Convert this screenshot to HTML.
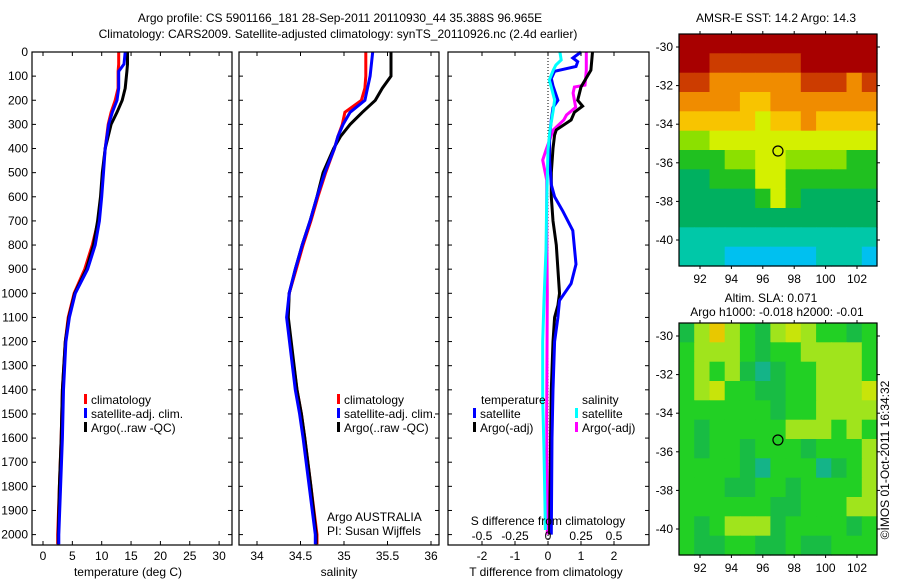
<!DOCTYPE html>
<html><head><meta charset="utf-8"><style>
html,body{margin:0;padding:0;background:#fff;}
svg{display:block;font-family:"Liberation Sans",Arial,sans-serif;}
text{font-size:12px;fill:#000;}
</style></head><body>
<svg id="chart" width="900" height="580" viewBox="0 0 900 580" xmlns="http://www.w3.org/2000/svg">
<text x="340" y="22" text-anchor="middle">Argo profile: CS 5901166_181 28-Sep-2011 20110930_44 35.388S 96.965E</text>
<text x="338" y="38" text-anchor="middle">Climatology: CARS2009. Satellite-adjusted climatology: synTS_20110926.nc (2.4d earlier)</text>
<g id="g1"></g>
<g id="g2"></g>
<g id="g3"></g>
<g id="g4"></g>
<g id="g5"></g>
<text x="0" y="0" transform="translate(889,460) rotate(-90)" text-anchor="middle">©IMOS 01-Oct-2011 16:34:32</text>
</svg>
<script>
// ---- data ----
const tDepth = [0,50,80,150,200,250,300,400,500,600,700,800,900,1000,1100,1200,1400,1600,1800,2000,2040];
const tClim  = [12.9,12.9,12.8,12.8,12.3,11.6,11.1,10.6,10.2,9.9,9.4,8.4,7.1,5.3,4.3,3.8,3.3,3.1,2.8,2.5,2.5];
const tSat   = [14.0,13.8,12.9,12.9,12.6,11.8,11.2,10.6,10.3,10.0,9.6,8.9,7.6,5.5,4.5,3.9,3.5,3.3,3.0,2.7,2.7];
const tArgo  = [14.4,14.4,14.3,14.0,13.5,12.6,11.6,10.6,10.1,9.8,9.3,8.6,7.4,5.4,4.4,3.8,3.3,3.1,2.8,2.6,2.6];
const sDepth = [0,100,150,200,250,300,350,400,500,600,700,800,900,1000,1100,1400,1500,1600,1800,2000,2040];
const sClim  = [35.25,35.25,35.24,35.20,35.01,34.98,34.93,34.89,34.79,34.70,34.62,34.53,34.45,34.37,34.35,34.46,34.51,34.55,34.62,34.69,34.69];
const sSat   = [35.33,35.30,35.27,35.24,35.07,34.99,34.93,34.89,34.78,34.69,34.61,34.52,34.44,34.37,34.34,34.44,34.49,34.53,34.60,34.67,34.67];
const sArgo  = [35.54,35.54,35.44,35.36,35.21,35.07,34.96,34.88,34.76,34.69,34.61,34.52,34.44,34.37,34.36,34.46,34.51,34.55,34.62,34.68,34.68];
const dTsatDepth = [0,25,40,60,80,110,140,200,230,280,350,450,550,600,660,740,880,960,1030,1100,1200,1400,1600,2000];
const dTsat      = [1.0,0.75,0.9,0.85,0.2,0.1,0.15,0.3,0.15,0.1,0.05,0.05,0.1,0.2,0.45,0.75,0.85,0.7,0.35,0.3,0.2,0.15,0.12,0.1];
const dTargoDepth = [0,75,145,200,224,250,282,323,344,400,500,600,700,800,900,1000,1050,1100,1200,1400,1600,2000];
const dTargo      = [1.35,1.3,1.0,0.9,1.05,0.8,0.7,0.25,0.2,0.15,0.1,0.1,0.15,0.25,0.3,0.35,0.3,0.2,0.15,0.1,0.08,0.05];
const dSargoDepth = [0,75,137,145,170,200,229,261,282,323,406,448,490,531,700,1000,1500,2000];
const dSargo      = [0.29,0.29,0.28,0.2,0.19,0.2,0.21,0.14,0.12,0.04,-0.015,-0.04,-0.025,-0.01,-0.01,-0.005,-0.01,-0.005];
const dSsatDepth = [0,33,54,75,116,157,199,240,323,406,613,820,1028,1200,1442,1650,1981];
const dSsat      = [0.09,0.1,0.06,0.04,0.01,0.03,0.05,0.04,0.015,0,-0.01,-0.015,-0.03,-0.04,-0.04,-0.03,-0.02];
const depthTicks = [0,100,200,300,400,500,600,700,800,900,1000,1100,1200,1300,1400,1500,1600,1700,1800,1900,2000];
const tTicks = [0,5,10,15,20,25,30];
const sTicks = [34,34.5,35,35.5,36];
const sTickLabels = ["34","34.5","35","35.5","36"];
const dTTicks = [-2,-1,0,1,2];
const dSTicks = [-0.5,-0.25,0,0.25,0.5];
const dSTickLabels = ["-0.5","-0.25","0","0.25","0.5"];
const latTicks = [-30,-32,-34,-36,-38,-40];
const lonTicks = [92,94,96,98,100,102];
const sstGrid = ["9999999999999","9988888899999","8877777788878","7777667777777","6666656676666","4455555555555","3334455444433","2233355333333","2222235322222","2222222222222","1111111111111","1110000001110"];
const slaGrid = ["GyoygGyYyggGg","gyyygGggyyyyg","gygyGtGggyyyg","gyYggGGggyyyY","ggggggGggyyyy","gGgggggyyygyg","gGggGgggGgggy","ggggGtgggtGgy","gggGGggGggggy","ggggggGGgggyy","gGgyyyGggggGg","gGGggGGgGGggg"];
const argoLon = 96.965, argoLat = -35.388;

// ---- helpers ----
const NS="http://www.w3.org/2000/svg";
function mk(tag, parent){const e=document.createElementNS(NS,tag);parent.appendChild(e);return e;}
const yD = d => 52 + d*0.2413;
const Y0=52, Y1=545;

function frame(g,x0,x1,name){
  const r=mk('rect',g);
  
  
  r.setAttribute('x',x0);r.setAttribute('y',Y0);r.setAttribute('width',x1-x0);r.setAttribute('height',Y1-Y0);
  r.setAttribute('fill','none');r.setAttribute('stroke','#000');r.setAttribute('stroke-width','1.2');
}
function tick(g,x1,y1,x2,y2){const l=mk('line',g);
  
  
  l.setAttribute('x1',x1);l.setAttribute('y1',y1);l.setAttribute('x2',x2);l.setAttribute('y2',y2);l.setAttribute('stroke','#000');}
function label(g,x,y,s,anchor,name){const t=mk('text',g);
  
  
  t.setAttribute('x',x);t.setAttribute('y',y);t.setAttribute('text-anchor',anchor||'middle');t.textContent=s;return t;}
function line(g,depths,vals,xf,color,name){const p=mk('polyline',g);
  
  
  p.setAttribute('points',depths.map((d,i)=>xf(vals[i]).toFixed(1)+','+yD(d).toFixed(1)).join(' '));
  p.setAttribute('fill','none');p.setAttribute('stroke',color);p.setAttribute('stroke-width','3');p.setAttribute('stroke-linejoin','miter');}
function legend(g,x,y,color,s){const r=mk('rect',g);
  
  
  r.setAttribute('x',x);r.setAttribute('y',y-10);r.setAttribute('width',3);r.setAttribute('height',10);r.setAttribute('fill',color);
  label(g,x+7,y,s,'start','legend-entry');}
function depthAxis(g,x0,x1,withLabels){
  depthTicks.forEach(d=>{const y=yD(d);tick(g,x0,y,x0+4,y);tick(g,x1,y,x1-4,y);
    if(withLabels) label(g,28,y+4,String(d),'end','y-tick-label');});
}

// ---- panel 1 temperature ----
const g1=document.getElementById('g1');
const xT = v => 43 + v*5.87;
line(g1,tDepth,tClim,xT,'#f00','series-climatology-temperature');
line(g1,tDepth,tArgo,xT,'#000','series-argo-temperature');
line(g1,tDepth,tSat,xT,'#00f','series-satellite-temperature');
frame(g1,32,232,'temperature-axes');
depthAxis(g1,32,232,true);
tTicks.forEach(v=>{const x=xT(v);tick(g1,x,Y1,x,Y1-4);tick(g1,x,Y0,x,Y0+4);label(g1,x,560,String(v),'middle','x-tick-label');});
label(g1,128,576,'temperature (deg C)','middle','x-axis-title');
legend(g1,84,404,'#f00','climatology');
legend(g1,84,418,'#00f','satellite-adj. clim.');
legend(g1,84,432,'#000','Argo(..raw -QC)');

// ---- panel 2 salinity ----
const g2=document.getElementById('g2');
const xS = v => 257 + (v-34)*87;
line(g2,sDepth,sClim,xS,'#f00','series-climatology-salinity');
line(g2,sDepth,sArgo,xS,'#000','series-argo-salinity');
line(g2,sDepth,sSat,xS,'#00f','series-satellite-salinity');
frame(g2,239,439,'salinity-axes');
depthAxis(g2,239,439,false);
sTicks.forEach((v,i)=>{const x=xS(v);tick(g2,x,Y1,x,Y1-4);tick(g2,x,Y0,x,Y0+4);label(g2,x,560,sTickLabels[i],'middle','x-tick-label');});
label(g2,339,576,'salinity','middle','x-axis-title');
legend(g2,337,404,'#f00','climatology');
legend(g2,337,418,'#00f','satellite-adj. clim.');
legend(g2,337,432,'#000','Argo(..raw -QC)');
label(g2,327,521,'Argo AUSTRALIA','start','credit-argo-australia');
label(g2,327,535,'PI: Susan Wijffels','start','credit-pi');

// ---- panel 3 differences ----
const g3=document.getElementById('g3');
const xDT = v => 548 + v*33;
const xDS = v => 548 + v*132;
const zl=mk('line',g3);


zl.setAttribute('x1',xDT(0));zl.setAttribute('x2',xDT(0));zl.setAttribute('y1',Y0);zl.setAttribute('y2',Y1);
zl.setAttribute('stroke','#000');zl.setAttribute('stroke-dasharray','1,2');
line(g3,dSargoDepth,dSargo,xDS,'#f0f','series-argo-salinity-diff');
line(g3,dTargoDepth,dTargo,xDT,'#000','series-argo-temperature-diff');
line(g3,dTsatDepth,dTsat,xDT,'#00f','series-satellite-temperature-diff');
line(g3,dSsatDepth,dSsat,xDS,'#0ff','series-satellite-salinity-diff');
frame(g3,448,649,'difference-axes');
depthAxis(g3,448,649,false);
dTTicks.forEach(v=>{const x=xDT(v);tick(g3,x,Y1,x,Y1-4);tick(g3,x,Y0,x,Y0+4);label(g3,x,560,String(v),'middle','x-tick-label');});
dSTicks.forEach((v,i)=>{label(g3,xDS(v),540,dSTickLabels[i],'middle','s-tick-label');});
label(g3,548,525,'S difference from climatology','middle','s-axis-title');
label(g3,546,576,'T difference from climatology','middle','x-axis-title');
label(g3,481,404,'temperature','start','legend-title-temperature');
label(g3,582,404,'salinity','start','legend-title-salinity');
legend(g3,473,418,'#00f','satellite');
legend(g3,473,432,'#000','Argo(-adj)');
legend(g3,575,418,'#0ff','satellite');
legend(g3,575,432,'#f0f','Argo(-adj)');

// ---- maps ----
const sstColors={"9":"#a80000","8":"#cc3c00","7":"#f08c00","6":"#f8c400","5":"#d4f000","4":"#8ce000","3":"#20c020","2":"#00b060","1":"#00c8a8","0":"#00c0f0"};
const slaColors={"g":"#22d024","G":"#18bc44","t":"#14b488","y":"#a0e41c","Y":"#c8e40a","o":"#e8c800"};
function map(g,top,grid,colors,name){
  const x0=679,x1=877,y0=top,y1=top+232;
  const lonX=v=>700+(v-92)*15.7;
  const latY=v=>top+13+(-30-v)*19.3;
  const rows=grid.length, cols=grid[0].length, cw=(x1-x0)/cols, ch=(y1-y0)/rows;
  grid.forEach((row,r)=>{[...row].forEach((c,k)=>{const rc=mk('rect',g);
    
    
    rc.setAttribute('x',(x0+k*cw).toFixed(1));rc.setAttribute('y',(y0+r*ch).toFixed(1));
    rc.setAttribute('width',(cw+0.6).toFixed(1));rc.setAttribute('height',(ch+0.6).toFixed(1));rc.setAttribute('fill',colors[c]);});});
  const fr=mk('rect',g);
  
  
  fr.setAttribute('x',x0);fr.setAttribute('y',y0);fr.setAttribute('width',x1-x0);fr.setAttribute('height',y1-y0);
  fr.setAttribute('fill','none');fr.setAttribute('stroke','#000');fr.setAttribute('stroke-width','1.2');
  latTicks.forEach(v=>{const y=latY(v);tick(g,x0,y,x0-3,y);tick(g,x1,y,x1+3,y);label(g,673,y+4,String(v),'end','lat-tick-label');});
  lonTicks.forEach(v=>{const x=lonX(v);tick(g,x,y1,x,y1+3);tick(g,x,y0,x,y0-3);label(g,x,y1+17,String(v),'middle','lon-tick-label');});
  const c=mk('circle',g);
  
  
  c.setAttribute('cx',lonX(argoLon));c.setAttribute('cy',latY(argoLat));c.setAttribute('r',5);
  c.setAttribute('fill','none');c.setAttribute('stroke','#000');c.setAttribute('stroke-width','1.2');
}
const g4=document.getElementById('g4');
map(g4,34,sstGrid,sstColors,'sst-map');
label(g4,776,22,'AMSR-E SST: 14.2 Argo: 14.3','middle','sst-map-title');
const g5=document.getElementById('g5');
map(g5,323,slaGrid,slaColors,'sla-map');
label(g5,771,302,'Altim. SLA: 0.071','middle','sla-map-title');
label(g5,777,316,'Argo h1000: -0.018 h2000: -0.01','middle','sla-map-subtitle');
</script>
</body></html>
